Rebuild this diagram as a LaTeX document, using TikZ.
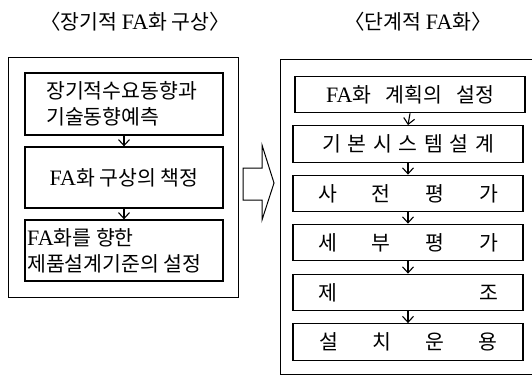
\documentclass[tikz,border=0pt]{standalone}
\usepackage{fontspec}
\newfontfamily\kr{Noto Sans CJK KR}
\newfontfamily\lat{Liberation Serif}
\usetikzlibrary{arrows.meta}
\newcommand\FA{{\lat\fontsize{22}{25}\selectfont FA}}
\begin{document}
\begin{tikzpicture}[x=1pt,y=-1pt,
  box/.style={draw, line width=1.3pt, inner sep=0pt},
  outerbox/.style={draw, line width=1pt, inner sep=0pt},
  txt/.style={font=\kr\fontsize{20.5}{26}\selectfont, inner sep=0pt},
  ttl/.style={font=\kr\fontsize{20.5}{24}\selectfont, inner sep=0pt},
  rbox/.style={box, txt, minimum width=230pt, minimum height=36.5pt},
  flow/.style={line width=1.1pt, -{Straight Barb[length=6pt,width=11pt,line width=1.1pt]}}]
\fill[white] (0,0) rectangle (532,376);
\useasboundingbox (0,0) rectangle (532,376);

% titles
\node[ttl] (T1) at (135,22) {〈장기적 \FA 화 구상〉};
\node[ttl] (T2) at (418,22) {〈단계적 \FA 화〉};

% left panel
\node[outerbox, minimum width=230pt, minimum height=240pt] (LO) at (123,177) {};
\node[box, minimum width=198pt, minimum height=62pt] (L1) at (124,104) {};
\node[box, txt, minimum width=198pt, minimum height=61pt] (L2) at (124,177.5) {\FA 화 구상의 책정};
\node[box, minimum width=198pt, minimum height=61pt] (L3) at (124,250.5) {};
\node[txt, anchor=west, align=left] (t1) at (46,104) {장기적수요동향과\\기술동향예측};
\node[txt, anchor=west, align=left] (t3) at (27,251) {\FA 화를 향한\\제품설계기준의 설정};
\draw[flow] (L1.south) -- (L2.north);
\draw[flow] (L2.south) -- (L3.north);

% big arrow
\draw[line width=1pt, line join=miter] (243,168) -- (262,168) -- (262,145) -- (274,183) -- (262,220) -- (262,200) -- (243,200) -- cycle;

% right panel
\coordinate (RO1) at (532,59);
\coordinate (RO2) at (532,374);
\draw[line width=1pt] (RO1) -| (280,374) -- (RO2);
\node[rbox] (R1) at (410,94.5) {\makebox[168pt][s]{\FA 화\hfill 계획의\hfill 설정}};
\node[rbox] (R2) at (408,144) {\makebox[172pt][s]{기\hfill 본\hfill 시\hfill 스\hfill 템\hfill 설\hfill 계}};
\node[rbox] (R3) at (408,193.5) {\makebox[180pt][s]{사\hfill 전\hfill 평\hfill 가}};
\node[rbox] (R4) at (408,242.5) {\makebox[180pt][s]{세\hfill 부\hfill 평\hfill 가}};
\node[rbox] (R5) at (408,292.5) {\makebox[180pt][s]{제\hfill 조}};
\node[rbox] (R6) at (408,342) {\makebox[178pt][s]{설\hfill 치\hfill 운\hfill 용}};
\draw[flow] (R1.south) -- (R2.north);
\draw[flow] (R2.south) -- (R3.north);
\draw[flow] (R3.south) -- (R4.north);
\draw[flow] (R4.south) -- (R5.north);
\draw[flow] (R5.south) -- (R6.north);
\end{tikzpicture}
\end{document}
